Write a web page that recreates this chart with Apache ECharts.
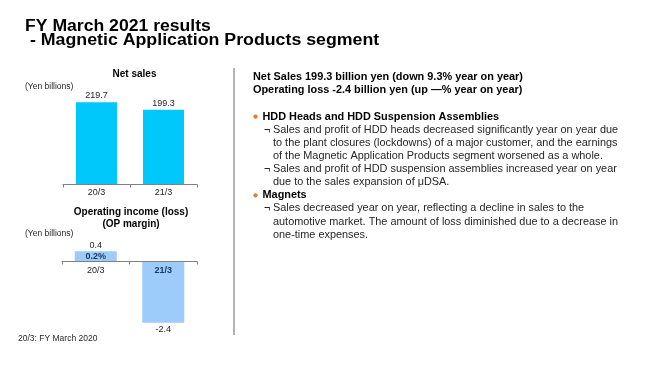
<!DOCTYPE html>
<html><head><meta charset="utf-8">
<script src="https://cdn.jsdelivr.net/npm/echarts@6/dist/echarts.min.js"></script>
<style>html,body{margin:0;padding:0;background:#fff}#c{width:660px;height:371px}</style>
</head><body><div id="c"></div>
<script>
var categories = ['20/3', '21/3'];
var netSales = [219.7, 199.3];
var opIncome = [0.4, -2.4];
var opMargin = ['0.2%', null];
var titleLines = ['FY March 2021 results', ' - Magnetic Application Products segment'];
var summaryLines = ['Net Sales 199.3 billion yen (down 9.3% year on year)', 'Operating loss -2.4 billion yen (up \u2014% year on year)'];
var bodyLines = [
  ['h', 'HDD Heads and HDD Suspension Assemblies'],
  ['s', 'Sales and profit of HDD heads decreased significantly year on year due'],
  ['c', 'to the plant closures (lockdowns) of a major customer, and the earnings'],
  ['c', 'of the Magnetic Application Products segment worsened as a whole.'],
  ['s', 'Sales and profit of HDD suspension assemblies increased year on year'],
  ['c', 'due to the sales expansion of \u03bcDSA.'],
  ['h', 'Magnets'],
  ['s', 'Sales decreased year on year, reflecting a decline in sales to the'],
  ['c', 'automotive market. The amount of loss diminished due to a decrease in'],
  ['c', 'one-time expenses.']
];

var FF = '"Liberation Sans", Arial, sans-serif';
var TXT = '#262626';
var BODY = 10.9;
var graphics = [];
function txt(x, y, s, size, weight, color, align, sx) {
  graphics.push({type: 'text', silent: true, x: x, y: y, scaleX: sx || 1,
    style: {x: 0, y: 0, text: s, fontFamily: FF, fontSize: size,
    fontWeight: weight || 'normal', fill: color || TXT, align: align || 'left', verticalAlign: 'middle'}});
}
txt(25, 26.5, titleLines[0], 16, 'bold', '#000', 'left', 1.1);
txt(25, 41, titleLines[1], 16, 'bold', '#000', 'left', 1.11);
txt(134.5, 74, 'Net sales', 10, 'bold', '#000', 'center');
txt(25, 87, '(Yen billions)', 8.5, 'normal', TXT);
txt(131, 212.5, 'Operating income (loss)', 10, 'bold', '#000', 'center');
txt(131, 224.5, '(OP margin)', 10, 'bold', '#000', 'center');
txt(25, 233.5, '(Yen billions)', 8.5, 'normal', TXT);
txt(18, 338.5, '20/3: FY March 2020', 8.5, 'normal', TXT);
txt(253, 76.5, summaryLines[0], BODY, 'bold', '#000');
txt(253, 90, summaryLines[1], BODY, 'bold', '#000');
var y0 = 116.7, dy = 13.1;
bodyLines.forEach(function (l, i) {
  var y = y0 + i * dy;
  if (l[0] === 'h') {
    graphics.push({type: 'circle', silent: true, shape: {cx: 255.5, cy: y, r: 2.1}, style: {fill: '#E07B2A'}});
    txt(262.5, y, l[1], BODY, 'bold', '#000');
  } else if (l[0] === 's') {
    txt(264, y, '\u00ac', BODY, 'normal', TXT);
    txt(273, y, l[1], BODY, 'normal', TXT);
  } else {
    txt(273, y, l[1], BODY, 'normal', TXT);
  }
});
graphics.push({type: 'line', silent: true, shape: {x1: 234, y1: 68, x2: 234, y2: 335}, style: {stroke: '#9a9a9a', lineWidth: 1.5}});

var opTop = 246.2, opH = 81.6, opMin = -2.6, opMax = 0.6;
var zeroOffset = -opH * (0 - opMin) / (opMax - opMin);

var chart = echarts.init(document.getElementById('c'), null, {renderer: 'canvas'});
chart.setOption({
  animation: false,
  textStyle: {fontFamily: FF},
  graphic: graphics,
  grid: [
    {left: 63, width: 134, top: 90.85, height: 93.65},
    {left: 62, width: 135, top: opTop, height: opH}
  ],
  xAxis: [
    {gridIndex: 0, type: 'category', data: categories, z: 10,
     axisLine: {lineStyle: {color: '#808080', width: 1}},
     axisTick: {show: true, length: 3, lineStyle: {color: '#808080'}},
     axisLabel: {color: TXT, fontSize: 9, margin: 4, fontFamily: FF}},
    {gridIndex: 1, type: 'category', data: categories, offset: zeroOffset, z: 10,
     axisLine: {onZero: false, lineStyle: {color: '#808080', width: 1}},
     axisTick: {show: true, length: 3, lineStyle: {color: '#808080'}},
     axisLabel: {margin: 5, fontFamily: FF,
       formatter: function (v, i) { return opIncome[i] < 0 ? '{h|' + v + '}' : '{n|' + v + '}'; },
       rich: {n: {color: TXT, fontSize: 9, fontFamily: FF}, h: {color: '#1F3864', fontSize: 9, fontWeight: 'bold', fontFamily: FF}}}}
  ],
  yAxis: [
    {gridIndex: 0, type: 'value', min: 0, max: 250, show: false, splitLine: {show: false}},
    {gridIndex: 1, type: 'value', min: opMin, max: opMax, show: false, splitLine: {show: false}}
  ],
  series: [
    {type: 'bar', xAxisIndex: 0, yAxisIndex: 0, data: netSales, barWidth: 41,
     itemStyle: {color: '#00C8FA'},
     label: {show: true, position: 'top', distance: 2, color: TXT, fontSize: 9, fontFamily: FF,
       formatter: function (p) { return p.value.toFixed(1); }}},
    {type: 'bar', xAxisIndex: 1, yAxisIndex: 1, barWidth: 42, z: 1,
     data: opIncome.map(function (v) {
       return {value: v, label: {position: v < 0 ? 'bottom' : 'top', distance: v < 0 ? 2.5 : 1.5}};
     }),
     itemStyle: {color: '#9DCBFA'},
     label: {show: true, color: TXT, fontSize: 9, fontFamily: FF,
       formatter: function (p) { return p.value.toFixed(1); }}},
    {type: 'bar', xAxisIndex: 1, yAxisIndex: 1, barWidth: 42, barGap: '-100%', z: 5,
     data: opIncome.map(function (v, i) { return opMargin[i] ? v : null; }),
     itemStyle: {color: 'rgba(0,0,0,0)'},
     label: {show: true, position: 'inside', color: '#1F3864', fontSize: 9, fontWeight: 'bold', fontFamily: FF,
       formatter: function (p) { return opMargin[p.dataIndex] || ''; }}}
  ]
});
</script></body></html>
